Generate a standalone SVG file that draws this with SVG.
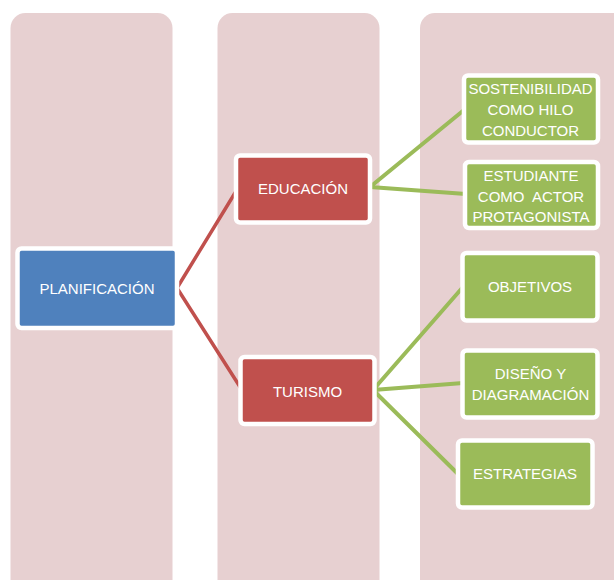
<svg xmlns="http://www.w3.org/2000/svg" width="614" height="580" viewBox="0 0 614 580">
<style>
.col{fill:#e7d0d1}
.blue{fill:#4f81bd;stroke:#fff;stroke-width:4.5}
.red{fill:#c0504d;stroke:#fff;stroke-width:4.5}
.green{fill:#9bbb59;stroke:#fff;stroke-width:4.5}
.t{font-family:"Liberation Sans",Arial,sans-serif;font-size:15px;fill:#fff;text-anchor:middle}
.rl{stroke:#c0504d;stroke-width:3.5;fill:none}
.gl{stroke:#9bbb59;stroke-width:4;fill:none}
</style>
<rect width="614" height="580" fill="#fff"/>
<g id="columns">
<rect class="col" x="10.5" y="13" width="162" height="600" rx="15"/>
<rect class="col" x="217.5" y="13" width="162" height="600" rx="15"/>
<rect class="col" x="420" y="13" width="230" height="600" rx="15"/>
</g>
<g id="connectors">
<path class="rl" d="M177,288 L238,188 M177,288 L242,390"/>
<path class="gl" d="M370,187 L464,110 M370,187 L466,194"/>
<path class="gl" d="M373,390 L463,287 M373,390 L463,383 M373,390 L458,474"/>
</g>
<g id="planificacion">
<rect class="blue" x="17.5" y="248.5" width="159.5" height="79.5" rx="4"/>
<text class="t" x="97" y="294">PLANIFICACIÓN</text>
</g>
<g id="educacion">
<rect class="red" x="236" y="155.5" width="134" height="67" rx="4"/>
<text class="t" x="303" y="194">EDUCACIÓN</text>
</g>
<g id="turismo">
<rect class="red" x="240.5" y="357" width="134" height="67" rx="4"/>
<text class="t" x="307.5" y="396.5">TURISMO</text>
</g>
<g id="sostenibilidad">
<rect class="green" x="464" y="75.5" width="134" height="67" rx="4"/>
<text class="t" x="530.5" y="94">SOSTENIBILIDAD</text>
<text class="t" x="530.5" y="115">COMO HILO</text>
<text class="t" x="530.5" y="135.5">CONDUCTOR</text>
</g>
<g id="estudiante">
<rect class="green" x="465" y="162" width="133" height="66" rx="4"/>
<text class="t" x="531" y="180.5">ESTUDIANTE</text>
<text class="t" x="531" y="201.5" xml:space="preserve">COMO  ACTOR</text>
<text class="t" x="531" y="222">PROTAGONISTA</text>
</g>
<g id="objetivos">
<rect class="green" x="462.5" y="253" width="135" height="67.5" rx="4"/>
<text class="t" x="530" y="292">OBJETIVOS</text>
</g>
<g id="diseno">
<rect class="green" x="462.5" y="350.5" width="135" height="67" rx="4"/>
<text class="t" x="530.5" y="379">DISEÑO Y</text>
<text class="t" x="530.5" y="400">DIAGRAMACIÓN</text>
</g>
<g id="estrategias">
<rect class="green" x="458" y="440.5" width="134.5" height="67" rx="4"/>
<text class="t" x="525" y="479">ESTRATEGIAS</text>
</g>
</svg>
